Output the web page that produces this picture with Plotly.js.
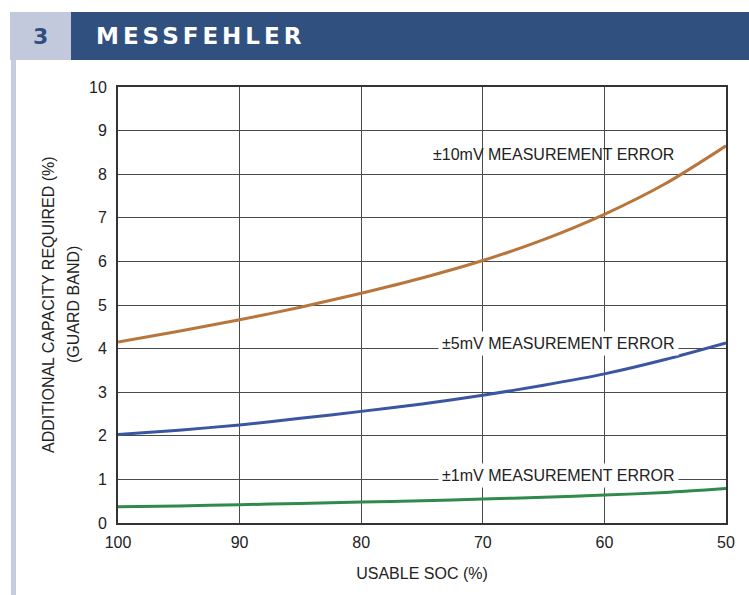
<!DOCTYPE html>
<html>
<head>
<meta charset="utf-8">
<script src="https://cdn.plot.ly/plotly-3.0.1.min.js"></script>
<style>
html, body { margin: 0; padding: 0; background: #ffffff; }
#chart { width: 749px; height: 595px; }
g.annotation text[data-unformatted="MESSFEHLER"] { letter-spacing: 4px; }
</style>
</head>
<body>
<div id="chart"></div>
<script>
// ---- data ----
const soc = [100, 95, 90, 85, 80, 75, 70, 65, 60, 55, 50];
const err10mV = [4.15, 4.40, 4.66, 4.95, 5.27, 5.62, 6.02, 6.50, 7.08, 7.78, 8.65];
const err5mV  = [2.03, 2.13, 2.25, 2.40, 2.56, 2.73, 2.93, 3.16, 3.42, 3.75, 4.13];
const err1mV  = [0.37, 0.39, 0.42, 0.45, 0.48, 0.51, 0.55, 0.59, 0.64, 0.70, 0.79];
const seriesNames = ["±10mV MEASUREMENT ERROR", "±5mV MEASUREMENT ERROR", "±1mV MEASUREMENT ERROR"];
const labelX = [64.2, 63.8, 63.8];
const labelY = [8.45, 4.12, 1.10];
const xTicks = [100, 90, 80, 70, 60, 50];
const yTicks = [0, 1, 2, 3, 4, 5, 6, 7, 8, 9, 10];
const headerNumber = "3";
const headerTitle = "MESSFEHLER";
const xTitle = "USABLE SOC (%)";
const yTitle1 = "ADDITIONAL CAPACITY REQUIRED (%)";
const yTitle2 = "(GUARD BAND)";

const colors = ["#b8763c", "#3a56a3", "#2f8a4c"];
const font = "Liberation Sans, Arial, sans-serif";

const traces = [err10mV, err5mV, err1mV].map((ys, i) => ({
  x: soc, y: ys, type: "scatter", mode: "lines",
  line: { color: colors[i], width: 3, shape: "spline", smoothing: 0.8 },
  hoverinfo: "skip", showlegend: false
}));

const annotations = seriesNames.map((t, i) => ({
  x: labelX[i], y: labelY[i], xref: "x", yref: "y",
  text: t, showarrow: false,
  font: { family: font, size: 16, color: "#222" },
  bgcolor: i === 0 ? "rgba(0,0,0,0)" : "#ffffff",
  borderpad: 3, xanchor: "center", yanchor: "middle"
}));

annotations.push(
  { xref: "paper", yref: "paper", x: 0, y: 0.5, xshift: -70, text: yTitle1, textangle: -90,
    showarrow: false, font: { family: font, size: 16, color: "#222" }, xanchor: "center", yanchor: "middle" },
  { xref: "paper", yref: "paper", x: 0, y: 0.5, xshift: -45, text: yTitle2, textangle: -90,
    showarrow: false, font: { family: font, size: 16, color: "#222" }, xanchor: "center", yanchor: "middle" },
  { xref: "paper", yref: "paper", x: 0, y: 1, xshift: -78, yshift: 51, text: headerNumber,
    showarrow: false, font: { family: "DejaVu Sans", size: 22, color: "#2f4f7f", weight: 700 }, xanchor: "center", yanchor: "middle" },
  { xref: "paper", yref: "paper", x: 0, y: 1, xshift: -4, yshift: 51, text: headerTitle,
    showarrow: false, font: { family: "DejaVu Sans", size: 23, color: "#ffffff", weight: 700 }, xanchor: "left", yanchor: "middle" }
);

const shapes = [
  { type: "rect", xref: "paper", yref: "paper",
    xsizemode: "pixel", ysizemode: "pixel", xanchor: 0, yanchor: 1,
    x0: -108, x1: -47, y0: 27, y1: 75, fillcolor: "#c3c9dd", line: { width: 0 }, layer: "below" },
  { type: "rect", xref: "paper", yref: "paper",
    xsizemode: "pixel", ysizemode: "pixel", xanchor: 0, yanchor: 1,
    x0: -47, x1: 640, y0: 27, y1: 75, fillcolor: "#30517f", line: { width: 0 }, layer: "below" },
  { type: "rect", xref: "paper", yref: "paper",
    xsizemode: "pixel", ysizemode: "pixel", xanchor: 0, yanchor: 1,
    x0: -107, x1: -102, y0: 27, y1: -520, fillcolor: "#c6cde3", line: { width: 0 }, layer: "below" }
];

const layout = {
  width: 749, height: 595,
  margin: { l: 118, r: 23, t: 87, b: 72 },
  paper_bgcolor: "#ffffff", plot_bgcolor: "#ffffff",
  font: { family: font, size: 16, color: "#222" },
  xaxis: {
    range: [100, 50], tickvals: xTicks, ticktext: xTicks.map(String),
    showgrid: true, gridcolor: "#4a4a4a", gridwidth: 1,
    showline: true, linecolor: "#333", linewidth: 2, mirror: true,
    ticks: "", zeroline: false, ticklabelstandoff: 4,
    tickfont: { family: font, size: 16, color: "#222" },
    title: { text: xTitle, font: { family: font, size: 16, color: "#222" }, standoff: 18 }
  },
  yaxis: {
    range: [0, 10], tickvals: yTicks, ticktext: yTicks.map(String),
    showgrid: true, gridcolor: "#4a4a4a", gridwidth: 1,
    showline: true, linecolor: "#333", linewidth: 2, mirror: true,
    ticks: "", zeroline: false, ticklabelstandoff: 6,
    tickfont: { family: font, size: 16, color: "#222" }
  },
  annotations: annotations,
  shapes: shapes
};

Plotly.newPlot("chart", traces, layout, { staticPlot: true, displayModeBar: false });
</script>
</body>
</html>
